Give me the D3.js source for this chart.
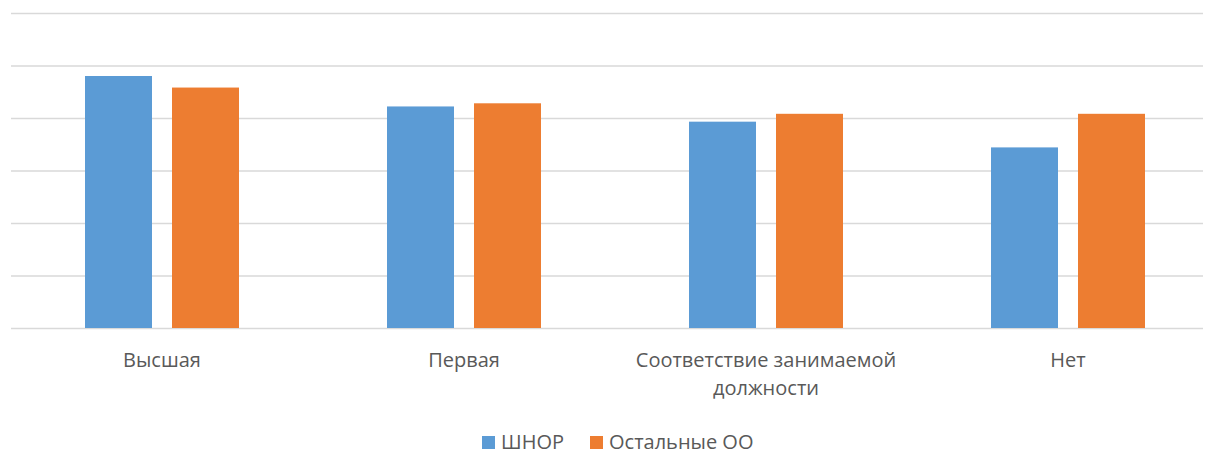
<!DOCTYPE html>
<html lang="ru">
  <head>
    <meta charset="UTF-8" />
    <title>Квалификационная категория</title>
    <script src="https://d3js.org/d3.v7.min.js"></script>
    <style>
      body { margin: 0; background: #fff; }
      .grid line { stroke: #d9d9d9; stroke-width: 1.5px; }
      .grid path { display: none; }
      .label, .legend text {
        font-family: "Open Sans", sans-serif;
        font-size: 20px;
        fill: #595959;
      }
    </style>
  </head>
  <body>
    <svg id="chart" width="1209" height="473"></svg>
    <script>
      const categories = [["Высшая"], ["Первая"], ["Соответствие занимаемой", "должности"], ["Нет"]];
      const seriesNames = ["ШНОР", "Остальные ОО"];
      const shnor = [48.0, 42.2, 39.3, 34.4];
      const others = [45.8, 42.8, 40.8, 40.8];
      const yTicks = [0, 10, 20, 30, 40, 50, 60];
      const colors = ["#5b9bd5", "#ed7d31"];

      const svg = d3.select("#chart");
      const margin = { top: 13, right: 6, bottom: 145, left: 11 };
      const width = +svg.attr("width") - margin.left - margin.right;
      const height = +svg.attr("height") - margin.top - margin.bottom;

      const g = svg.append("g")
        .attr("transform", "translate(" + margin.left + "," + margin.top + ")");

      const y = d3.scaleLinear().domain([0, 60]).range([height, 0]);
      // category bands run a little past the right grid edge, as in the original
      const x0 = d3.scaleBand().domain(d3.range(categories.length)).range([0, 1208]);
      const groupW = 154;
      const x1 = d3.scaleBand().domain([0, 1]).range([0, groupW]).paddingInner(0.23);

      g.append("g")
        .attr("class", "grid")
        .call(d3.axisLeft(y).tickValues(yTicks).tickSize(-width).tickFormat(""));

      const rows = categories.map((c, i) => [shnor[i], others[i]]);

      const groups = g.selectAll("g.cat")
        .data(rows)
        .join("g")
        .attr("class", "cat")
        .attr("transform", (d, i) => "translate(" + (x0(i) + (x0.bandwidth() - groupW) / 2) + ",0)");

      groups.selectAll("rect")
        .data(d => d)
        .join("rect")
        .attr("x", (d, j) => x1(j))
        .attr("width", x1.bandwidth())
        .attr("y", d => y(d))
        .attr("height", d => height - y(d))
        .attr("fill", (d, j) => colors[j]);

      const labels = g.selectAll("text.label")
        .data(categories)
        .join("text")
        .attr("class", "label")
        .attr("text-anchor", "middle")
        .attr("x", (d, i) => x0(i) + x0.bandwidth() / 2)
        .attr("y", height + 39);

      labels.selectAll("tspan")
        .data(d => d)
        .join("tspan")
        .attr("x", function () { return d3.select(this.parentNode).attr("x"); })
        .attr("dy", (d, k) => (k === 0 ? 0 : 28))
        .text(d => d);

      const legend = svg.append("g").attr("class", "legend");
      const legendX = [482, 590];
      seriesNames.forEach((name, j) => {
        legend.append("rect")
          .attr("x", legendX[j]).attr("y", 436)
          .attr("width", 13).attr("height", 13)
          .attr("fill", colors[j]);
        legend.append("text")
          .attr("x", legendX[j] + 19).attr("y", 449)
          .text(name);
      });
    </script>
  </body>
</html>
